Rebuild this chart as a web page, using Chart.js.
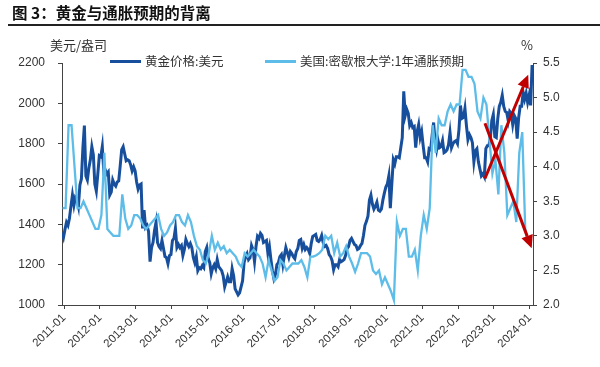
<!DOCTYPE html>
<html>
<head>
<meta charset="utf-8">
<script src="https://cdn.jsdelivr.net/npm/chart.js@4.4.1/dist/chart.umd.min.js"></script>
<style>
html,body{margin:0;padding:0;background:#fff;}
#wrap{position:relative;width:600px;height:367px;overflow:hidden;font-family:"Noto Sans CJK SC","Noto Sans",sans-serif;}
#c{position:absolute;left:0;top:0;}
#title{position:absolute;left:12px;top:2px;font-size:15.5px;font-weight:bold;color:#111;white-space:nowrap;line-height:20px;}
#rule{position:absolute;left:8px;right:0;top:24px;height:2px;background:#222;}
.unit{position:absolute;top:36px;font-size:13px;color:#333;line-height:18px;white-space:nowrap;z-index:2;}
.leg{position:absolute;top:52px;font-size:12.5px;color:#333;display:flex;align-items:center;white-space:nowrap;line-height:18px;z-index:2;}
.leg i{display:inline-block;width:31px;height:3px;margin-right:4px;}
</style>
</head>
<body>
<div id="wrap">
  <canvas id="c" width="600" height="367"></canvas>
  <div id="title">图 3：黄金与通胀预期的背离</div>
  <div id="rule"></div>
  <div class="unit" id="unitL" style="left:50px;"></div>
  <div class="unit" id="unitR" style="left:521px;"></div>
  <div class="leg" id="leg0" style="left:110px;"></div>
  <div class="leg" id="leg1" style="left:265px;"></div>
</div>
<script>
// ---------- data ----------
const tickLabels = ['2011-01','2012-01','2013-01','2014-01','2015-01','2016-01','2017-01',
                    '2018-01','2019-01','2020-01','2021-01','2022-01','2023-01','2024-01'];
const leftUnit = '美元/盎司';
const rightUnit = '%';
const goldName = '黄金价格:美元';
const inflName = '美国:密歇根大学:1年通胀预期';

// Gold price (USD), semi-monthly readings from mid-Jan 2011 to early Mar 2024
const goldPrice = [
  // 2011 (from mid-Jan)
  1360,1335,1375,1410,1395,1430,1490,1545,1495,1535,1525,1490,1595,1625,1780,1890,1640,1620,1680,1720,1785,1745,1600,
  // 2012
  1565,1650,1740,1735,1785,1660,1670,1650,1660,1545,1560,1620,1600,1590,1610,1615,1690,1770,1785,1750,1715,1720,1715,1695,
  // 2013
  1665,1685,1665,1610,1575,1595,1600,1380,1470,1385,1395,1365,1215,1285,1310,1370,1410,1310,1290,1280,1320,1280,1240,1235,
  // 2014
  1205,1245,1250,1320,1330,1380,1285,1300,1285,1295,1245,1275,1325,1305,1290,1305,1285,1235,1210,1240,1170,1185,1180,1195,
  // 2015
  1185,1265,1285,1230,1210,1155,1185,1200,1180,1225,1190,1180,1170,1145,1090,1115,1140,1115,1115,1180,1145,1080,1065,1050,
  // 2016
  1060,1090,1120,1210,1240,1255,1225,1235,1295,1275,1215,1290,1340,1330,1355,1345,1310,1315,1320,1255,1290,1225,1170,1130,
  // 2017
  1150,1200,1210,1240,1250,1200,1245,1285,1260,1235,1265,1255,1240,1230,1265,1280,1320,1325,1280,1300,1275,1285,1275,1255,
  // 2018
  1305,1340,1345,1350,1320,1315,1325,1345,1310,1290,1295,1280,1250,1240,1220,1175,1200,1200,1190,1225,1215,1220,1225,1245,
  // 2019
  1280,1290,1320,1330,1315,1300,1295,1275,1280,1295,1305,1345,1395,1415,1440,1520,1545,1500,1475,1490,1510,1470,1465,1475,
  // 2020
  1520,1555,1585,1600,1640,1480,1600,1720,1700,1735,1735,1730,1780,1830,2060,1940,1970,1950,1890,1905,1880,1885,1780,1860,
  // 2021
  1895,1830,1860,1790,1730,1730,1710,1775,1770,1840,1905,1810,1770,1815,1780,1785,1815,1755,1760,1770,1795,1855,1780,1800,
  // 2022
  1810,1815,1800,1870,1990,1925,1930,1975,1890,1820,1845,1830,1805,1710,1765,1775,1710,1675,1640,1650,1635,1775,1790,1790,
  // 2023
  1825,1915,1945,1835,1830,1925,1985,2005,2040,1985,1960,1955,1915,1960,1950,1895,1940,1925,1825,1930,1985,1985,2055,2020,
  // 2024
  2050,2005,2040,1990,2190
];

// Michigan 1-year inflation expectation (%), monthly Jan 2011 - Jan 2024
const inflExp = [
  // 2011
  3.4,3.4,4.6,4.6,4.0,3.4,3.4,3.5,3.4,3.3,3.2,3.1,
  // 2012
  3.1,3.3,4.2,3.1,3.05,3.0,3.0,3.0,3.6,3.25,3.1,3.15,
  // 2013
  3.3,3.3,3.25,3.15,3.1,3.15,3.2,3.25,3.3,3.1,3.0,3.05,
  // 2014
  3.15,3.2,3.3,3.3,3.2,3.15,3.3,3.2,3.0,2.85,2.8,2.65,
  // 2015
  2.6,2.75,3.0,2.8,2.9,2.8,2.85,2.75,2.8,2.75,2.7,2.6,
  // 2016
  2.55,2.75,2.7,2.75,2.8,2.75,2.7,2.6,2.4,2.65,2.5,2.35,
  // 2017
  2.4,2.65,2.6,2.5,2.55,2.6,2.6,2.6,2.65,2.55,2.4,2.7,
  // 2018
  2.7,2.72,2.75,2.8,3.0,2.95,3.0,2.75,2.9,2.7,2.75,2.85,
  // 2019
  2.7,2.6,2.48,2.6,2.75,2.75,2.75,2.7,2.5,2.45,2.5,2.3,
  // 2020
  2.4,2.3,2.2,2.07,3.2,3.0,3.1,3.1,2.7,2.7,2.8,2.5,
  // 2021
  3.0,3.3,3.1,3.4,4.6,4.2,4.7,4.6,4.6,4.8,4.9,4.8,
  // 2022
  4.9,4.9,5.4,5.4,5.3,5.3,5.2,4.8,4.7,5.0,4.9,4.4,
  // 2023
  3.9,4.1,3.6,4.6,4.2,3.3,3.4,3.5,3.2,4.2,4.5,3.1,
  // 2024
  2.9
];

// red annotation arrows, in data units: [month index, % on right axis]
const arrowNotes = [
  {from:[141.0,3.83], to:[155.5,5.33]},
  {from:[141.0,4.63], to:[156.66,2.82]}
];

// ---------- placement on the month axis (months since 2011-01) ----------
const GOLD_FIRST = 0.5, GOLD_STEP = 0.5, GOLD_SHIFT = -1.2;
const INFL_FIRST = 0, INFL_STEP = 1, INFL_SHIFT = -0.5;
const goldPts = goldPrice.map((v,i)=>({x:GOLD_FIRST+GOLD_STEP*i+GOLD_SHIFT, y:v}));
const inflPts = inflExp.map((v,i)=>({x:INFL_FIRST+INFL_STEP*i+INFL_SHIFT, y:v}));

const GOLD_COLOR = '#174f9c', INFL_COLOR = '#5dbde8';

// ---------- text overlays ----------
document.getElementById('unitL').textContent = leftUnit;
document.getElementById('unitR').textContent = rightUnit;
function legendItem(id, color, text){
  const el = document.getElementById(id);
  const sw = document.createElement('i'); sw.style.background = color;
  const tx = document.createElement('span'); tx.textContent = text;
  el.appendChild(sw); el.appendChild(tx);
}
legendItem('leg0', GOLD_COLOR, goldName);
legendItem('leg1', INFL_COLOR, inflName);

// ---------- arrows plugin ----------
const arrowPlugin = {
  id:'arrows',
  afterDatasetsDraw(chart){
    const ctx = chart.ctx, xs = chart.scales.x, ys = chart.scales.yR;
    ctx.save();
    arrowNotes.forEach(a=>{
      const x1 = xs.getPixelForValue(a.from[0]), y1 = ys.getPixelForValue(a.from[1]);
      const x2 = xs.getPixelForValue(a.to[0]),   y2 = ys.getPixelForValue(a.to[1]);
      const ang = Math.atan2(y2-y1, x2-x1), L = 13, W = 6;
      const bx = x2 - L*Math.cos(ang), by = y2 - L*Math.sin(ang);
      ctx.strokeStyle = '#c00000'; ctx.fillStyle = '#c00000'; ctx.lineWidth = 3;
      ctx.beginPath(); ctx.moveTo(x1,y1); ctx.lineTo(bx,by); ctx.stroke();
      ctx.beginPath();
      ctx.moveTo(x2,y2);
      ctx.lineTo(bx - W*Math.sin(ang), by + W*Math.cos(ang));
      ctx.lineTo(bx + W*Math.sin(ang), by - W*Math.cos(ang));
      ctx.closePath(); ctx.fill();
    });
    ctx.restore();
  }
};

const tickFont = {family:'"Liberation Sans", Arial, sans-serif', size:12};
const axisColor = '#444';

new Chart(document.getElementById('c'), {
  type:'line',
  data:{datasets:[
    {label:inflName, data:inflPts, yAxisID:'yR', borderColor:INFL_COLOR, borderWidth:2.3,
     pointRadius:0, tension:0, fill:false, order:0},
    {label:goldName, data:goldPts, yAxisID:'yL', borderColor:GOLD_COLOR, borderWidth:3,
     pointRadius:0, tension:0, fill:false, order:1}
  ]},
  options:{
    responsive:false, animation:false, devicePixelRatio:1, events:[],
    layout:{padding:{top:63,left:0,right:0,bottom:0}},
    plugins:{legend:{display:false}, tooltip:{enabled:false}, title:{display:false}},
    scales:{
      x:{
        type:'linear', min:-0.7, max:157.1,
        afterBuildTicks:(s)=>{ s.ticks = tickLabels.map((l,k)=>({value:12*k})); },
        ticks:{autoSkip:false, maxRotation:45, minRotation:45, padding:2,
               font:{family:'"Liberation Sans", Arial, sans-serif', size:11.5}, color:'#333',
               callback:(v,i)=>tickLabels[i]},
        grid:{drawOnChartArea:false, drawTicks:true, tickLength:4, color:axisColor},
        border:{display:true, color:axisColor, width:1},
        afterFit:(s)=>{ s.height = 62; }
      },
      yL:{
        position:'left', min:1000, max:2200,
        ticks:{stepSize:200, padding:13, font:tickFont, color:'#333', callback:(v)=>String(Math.round(v))},
        grid:{drawOnChartArea:false, drawTicks:true, tickLength:4, color:axisColor},
        border:{display:true, color:axisColor, width:1},
        afterFit:(s)=>{ s.width = 62; }
      },
      yR:{
        position:'right', min:2, max:5.5,
        ticks:{stepSize:0.5, padding:6, font:tickFont, color:'#333', callback:(v)=>Number(v).toFixed(1)},
        grid:{drawOnChartArea:false, drawTicks:true, tickLength:4, color:axisColor},
        border:{display:true, color:axisColor, width:1},
        afterFit:(s)=>{ s.width = 67; }
      }
    }
  },
  plugins:[arrowPlugin]
});
</script>
</body>
</html>
